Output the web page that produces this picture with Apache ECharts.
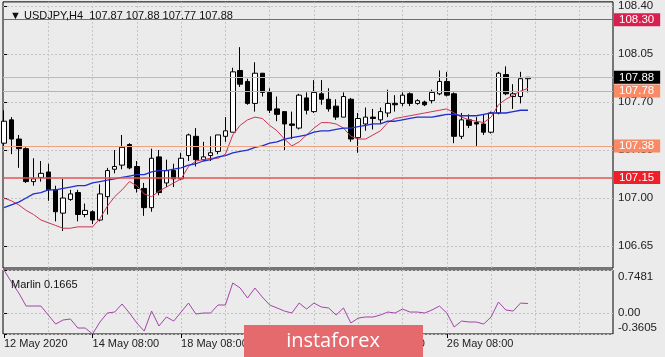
<!DOCTYPE html>
<html><head><meta charset="utf-8">
<script src="https://cdn.jsdelivr.net/npm/echarts@6/dist/echarts.min.js"></script>
<style>html,body{margin:0;padding:0;background:#ebebeb}#c{width:665px;height:357px}</style>
</head><body><div id="c"></div>
<script>
const symbolName = 'USDJPY,H4';
const open  = [107.40,107.57,107.43,107.36,107.12,107.15,107.19,107.06,106.89,106.99,107.04,106.88,106.90,106.84,107.01,107.21,107.24,107.39,107.23,107.07,106.93,107.30,107.11,107.20,107.14,107.31,107.45,107.28,107.31,107.34,107.45,107.48,107.93,107.85,107.69,107.91,107.77,107.65,107.63,107.54,107.51,107.73,107.63,107.76,107.72,107.67,107.59,107.72,107.44,107.54,107.59,107.57,107.62,107.69,107.69,107.76,107.69,107.70,107.71,107.76,107.85,107.76,107.45,107.57,107.55,107.54,107.48,107.62,107.90,107.74,107.74,107.87];
const high  = [107.64,107.59,107.46,107.37,107.29,107.27,107.25,107.09,107.14,107.06,107.06,106.96,106.91,107.10,107.22,107.35,107.46,107.40,107.27,107.11,107.36,107.35,107.28,107.25,107.33,107.47,107.51,107.41,107.45,107.46,107.59,107.95,108.10,107.87,107.99,107.91,107.80,107.74,107.63,107.63,107.76,107.77,107.86,107.86,107.80,107.72,107.77,107.73,107.62,107.66,107.65,107.66,107.79,107.75,107.77,107.77,107.72,107.71,107.79,107.93,107.92,107.77,107.62,107.61,107.59,107.61,107.63,107.92,107.96,107.83,107.92,107.88];
const low   = [107.38,107.32,107.22,107.11,107.09,107.12,106.98,106.83,106.76,106.98,106.83,106.86,106.81,106.83,106.88,107.18,107.21,107.21,107.04,106.87,106.90,107.02,107.08,107.08,107.13,107.27,107.23,107.27,107.27,107.32,107.41,107.48,107.81,107.68,107.63,107.74,107.62,107.56,107.35,107.43,107.50,107.61,107.62,107.68,107.63,107.57,107.59,107.41,107.33,107.49,107.50,107.54,107.59,107.63,107.67,107.67,107.68,107.67,107.69,107.75,107.74,107.40,107.43,107.51,107.38,107.46,107.47,107.61,107.75,107.65,107.69,107.77];
const close = [107.56,107.43,107.36,107.12,107.14,107.18,107.06,106.90,107.00,107.03,106.88,106.91,106.84,107.03,107.20,107.23,107.37,107.22,107.07,106.93,107.29,107.04,107.20,107.14,107.29,107.46,107.28,107.30,107.33,107.46,107.49,107.92,107.83,107.69,107.91,107.77,107.64,107.61,107.54,107.53,107.75,107.64,107.77,107.72,107.65,107.59,107.74,107.43,107.58,107.59,107.58,107.63,107.69,107.68,107.75,107.69,107.71,107.68,107.77,107.85,107.75,107.45,107.57,107.53,107.54,107.48,107.62,107.91,107.76,107.76,107.87,107.88];
const maFast = [107.00,106.98,106.95,106.91,106.88,106.84,106.82,106.80,106.78,106.78,106.79,106.79,106.79,106.85,106.94,107.01,107.06,107.12,107.09,107.03,107.01,107.05,107.08,107.11,107.14,107.23,107.27,107.28,107.29,107.29,107.32,107.46,107.53,107.57,107.59,107.58,107.53,107.49,107.43,107.38,107.41,107.46,107.51,107.55,107.55,107.54,107.51,107.45,107.43,107.43,107.46,107.49,107.55,107.58,107.59,107.60,107.61,107.62,107.63,107.64,107.65,107.62,107.59,107.57,107.56,107.55,107.59,107.68,107.72,107.75,107.78,107.80];
const maSlow = [106.93,106.95,106.97,107.00,107.03,107.04,107.06,107.06,107.07,107.08,107.09,107.09,107.11,107.12,107.13,107.14,107.15,107.16,107.17,107.17,107.19,107.20,107.20,107.21,107.22,107.24,107.25,107.27,107.28,107.30,107.31,107.33,107.34,107.35,107.37,107.38,107.40,107.41,107.43,107.44,107.45,107.46,107.48,107.49,107.49,107.50,107.51,107.51,107.52,107.53,107.54,107.54,107.56,107.56,107.57,107.58,107.59,107.59,107.59,107.60,107.61,107.61,107.60,107.60,107.60,107.61,107.62,107.62,107.62,107.63,107.64,107.64];
const marlin = [0.7481,0.540,0.350,0.124,0.124,0.124,-0.032,-0.188,-0.118,-0.101,-0.257,-0.257,-0.3605,-0.153,0.003,0.020,0.159,0.003,-0.170,-0.309,0.037,-0.222,-0.066,-0.136,0.020,0.176,-0.015,0.003,0.003,0.142,0.142,0.523,0.436,0.263,0.436,0.280,0.142,0.090,0.037,0.003,0.176,0.072,0.176,0.107,0.090,-0.032,0.090,-0.170,-0.084,-0.066,-0.066,-0.032,0.020,0.003,0.072,0.020,0.020,0.003,0.055,0.124,0.003,-0.240,-0.136,-0.153,-0.153,-0.188,-0.066,0.193,0.055,0.037,0.176,0.1665];
const marlinLast = 0.1665;
const xTickLabels = ['12 May 2020','14 May 08:00','18 May 08:00','20 May 08:00','22 May 08:00','26 May 08:00'];
const xTickBars = [0,12,24,36,48,60];
const xGridBars = [6,12,18,24,30,36,42,48,54,60,66,72,78];
const yTickLabels = [106.65,107.00,107.35,107.70,108.05,108.40];
const subTickLabels = [-0.3605,0,0.7481];
const levelValues = [108.30,107.78,107.38,107.15];
const levelLine = ['#d0405f','#f2a082','#f2a082','#e25555'];
const levelBox = ['#d81f4f','#f88a66','#f88a66','#f01e28'];
const levelWidth = [1.2,1,1,1.5];

const FONT = '"Liberation Sans", Arial, sans-serif';
const last = close.length - 1;
const candleData = open.map((o, i) => [i, o, close[i], low[i], high[i]]);
const gridDash = {color: '#c4c4c4', type: [2, 2], width: 1};

const marks = levelValues.map((v, k) => ({
  yAxis: v,
  lineStyle: {color: levelLine[k], width: levelWidth[k], type: 'solid'},
  label: {show: true, position: 'end', distance: 1, formatter: v.toFixed(2),
    backgroundColor: levelBox[k], color: '#fff', fontFamily: FONT, fontSize: 11.5,
    padding: [1, 6, 0, 5], lineHeight: 12}
}));
marks.unshift({
  yAxis: close[last],
  lineStyle: {color: '#bcbcbc', width: 1, type: 'solid'},
  label: {show: true, position: 'end', distance: 1, formatter: close[last].toFixed(2),
    backgroundColor: '#000', color: '#fff', fontFamily: FONT, fontSize: 11.5,
    padding: [1, 6, 0, 5], lineHeight: 12}
});

const chart = echarts.init(document.getElementById('c'));
chart.setOption({
  animation: false,
  backgroundColor: '#ebebeb',
  textStyle: {fontFamily: FONT},
  title: [
    {text: '\u25BC ' + symbolName + '  ' + [open[last], high[last], low[last], close[last]].map(v => v.toFixed(2)).join(' '),
     left: 5, top: 5, textStyle: {fontSize: 11, fontWeight: 'normal', color: '#111', fontFamily: FONT}},
    {text: 'Marlin ' + marlinLast.toFixed(4), left: 6, top: 274,
     textStyle: {fontSize: 11, fontWeight: 'normal', color: '#111', fontFamily: FONT}}
  ],
  grid: [
    {left: 3, right: 52, top: 0, height: 268, show: true, borderColor: '#000', borderWidth: 1, backgroundColor: 'transparent'},
    {left: 3, right: 52, top: 270, height: 64, show: true, borderColor: '#000', borderWidth: 1, backgroundColor: 'transparent'}
  ],
  xAxis: [
    {type: 'value', gridIndex: 0, min: -0.135, max: 82.52, axisLine: {show: false},
     axisTick: {show: false, customValues: xGridBars}, axisLabel: {show: false, customValues: xGridBars},
     splitLine: {show: true, lineStyle: gridDash}},
    {type: 'value', gridIndex: 1, min: -0.135, max: 82.52, axisLine: {show: false},
     axisTick: {show: false, customValues: xGridBars}, axisLabel: {show: false, customValues: xGridBars},
     splitLine: {show: true, lineStyle: gridDash}},
    {type: 'value', gridIndex: 1, min: -0.135, max: 82.52, position: 'bottom', axisLine: {show: false},
     axisTick: {show: true, length: 4, customValues: xTickBars, lineStyle: {color: '#000'}},
     axisLabel: {show: true, customValues: xTickBars, align: 'left', margin: 4, color: '#222', fontSize: 11, fontFamily: FONT,
       formatter: v => { const k = xTickBars.indexOf(Math.round(v)); return k >= 0 ? xTickLabels[k] : ''; }},
     splitLine: {show: false}}
  ],
  yAxis: [
    {type: 'value', gridIndex: 0, position: 'right', min: 106.49, max: 108.43, axisLine: {show: false},
     axisTick: {show: true, length: 3, customValues: yTickLabels, lineStyle: {color: '#000'}},
     axisLabel: {customValues: yTickLabels, margin: 5, color: '#222', fontSize: 11.5, fontFamily: FONT, formatter: v => v.toFixed(2)},
     splitLine: {show: true, lineStyle: gridDash}},
    {type: 'value', gridIndex: 1, position: 'right', min: -0.3605, max: 0.7481, axisLine: {show: false},
     axisTick: {show: true, length: 3, customValues: subTickLabels, lineStyle: {color: '#000'}},
     axisLabel: {customValues: subTickLabels, margin: 5, color: '#222', fontSize: 11.5, fontFamily: FONT,
       formatter: v => v === 0 ? '{m|0.00}' : (v > 0 ? '{t|' + v.toFixed(4) + '}' : '{b|' + v.toFixed(4) + '}'),
       rich: {m: {fontSize: 11.5}, t: {fontSize: 11.5, padding: [14, 0, 0, 0]}, b: {fontSize: 11.5, padding: [0, 0, 12, 0]}}},
     splitLine: {show: true, lineStyle: gridDash}}
  ],
  series: [
    {type: 'candlestick', xAxisIndex: 0, yAxisIndex: 0, data: candleData, encode: {x: 0, y: [1, 2, 3, 4]},
     barWidth: 5,
     itemStyle: {color: '#ffffff', color0: '#000000', borderColor: '#000000', borderColor0: '#000000', borderWidth: 1},
     markLine: {symbol: ['none', 'none'], silent: true, animation: false, data: marks}, z: 3},
    {type: 'line', xAxisIndex: 0, yAxisIndex: 0, data: maFast.map((v, i) => [i, v]), showSymbol: false,
     lineStyle: {color: '#cf3352', width: 1}, z: 4},
    {type: 'line', xAxisIndex: 0, yAxisIndex: 0, data: maSlow.map((v, i) => [i, v]), showSymbol: false,
     lineStyle: {color: '#1f2fd0', width: 1.3}, z: 4},
    {type: 'line', xAxisIndex: 1, yAxisIndex: 1, data: marlin.map((v, i) => [i, v]), showSymbol: false,
     lineStyle: {color: '#a344a8', width: 1}, z: 4}
  ],
  graphic: [
    {type: 'rect', z: 100, shape: {x: 244, y: 325, width: 179, height: 32}, style: {fill: '#e46a6e'}},
    {type: 'text', z: 101, style: {text: 'instaforex', x: 333, y: 341, align: 'center', verticalAlign: 'middle',
      fill: '#ffffff', font: '20px "Open Sans", sans-serif'}}
  ]
});
</script>
</body></html>
